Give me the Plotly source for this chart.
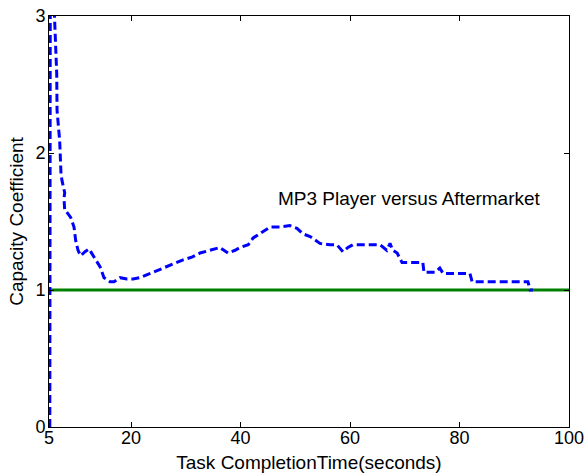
import plotly.graph_objects as go

# Capacity coefficient curve
time_s = [5.15, 5.25, 5.9, 6.2, 6.41, 6.47, 6.95, 7.19, 7.37, 7.87, 7.74, 7.87, 8.23, 8.96,
          9.57, 9.88, 10.3, 10.79, 11.58, 12.31, 13.22, 14.32, 15.05, 16.14, 16.87, 17.97,
          19.25, 20.35, 21.6, 23.45, 24.9, 26.55, 28.0, 29.5, 31.1, 32.6, 34.4, 36.2, 37.7,
          39.0, 39.9, 41.4, 42.3, 43.9, 45.4, 47.2, 49.0, 50.3, 51.4, 52.7, 54.5, 56.3,
          57.6, 58.7, 59.6, 60.5, 62.7, 65.5, 66.7, 67.3, 67.8, 68.6, 69.5, 71.0, 73.3,
          73.5, 75.5, 76.4, 77.0, 81.9, 82.3, 87.4, 92.5, 92.9, 93.4]
capacity = [0.0, 3.8, 3.1, 2.8, 2.58, 2.31, 2.09, 1.85, 1.80, 1.71, 1.67, 1.58, 1.57, 1.53,
            1.46, 1.36, 1.29, 1.25, 1.28, 1.30, 1.24, 1.17, 1.09, 1.06, 1.06, 1.09,
            1.08, 1.08, 1.09, 1.12, 1.14, 1.17, 1.19, 1.22, 1.24, 1.27, 1.29, 1.31, 1.27,
            1.29, 1.31, 1.33, 1.38, 1.42, 1.46, 1.46, 1.47, 1.45, 1.41, 1.39, 1.34, 1.33,
            1.33, 1.28, 1.31, 1.33, 1.33, 1.33, 1.29, 1.34, 1.29, 1.27, 1.20, 1.20, 1.20,
            1.13, 1.13, 1.16, 1.12, 1.12, 1.06, 1.06, 1.06, 1.00, 1.00]

ref_x = [5, 100]
ref_y = [1, 1]

x_ticks = [5, 20, 40, 60, 80, 100]
y_ticks = [0, 1, 2, 3]

annotation_text = "MP3 Player versus Aftermarket"

FONT = "Liberation Sans, Arial"

fig = go.Figure()
fig.add_trace(go.Scatter(x=ref_x, y=ref_y, mode="lines",
                         line=dict(color="rgb(0,128,0)", width=3), showlegend=False))
fig.add_trace(go.Scatter(x=time_s, y=capacity, mode="lines",
                         line=dict(color="rgb(0,0,255)", width=3, dash="8px,4px"),
                         showlegend=False))

fig.add_annotation(x=70.8, y=1.67, text=annotation_text, showarrow=False,
                   font=dict(size=19, color="black", family=FONT))

axis_common = dict(showline=True, linecolor="black", linewidth=1, mirror="ticks",
                   ticks="inside", ticklen=5, tickcolor="black", showgrid=False,
                   zeroline=False, automargin=False, ticklabeloverflow="allow",
                   tickfont=dict(size=18, color="black", family=FONT))

fig.update_xaxes(range=[5, 100], tickvals=x_ticks, ticktext=[str(v) for v in x_ticks],
                 ticklabelstandoff=-6,
                 title=dict(text="Task CompletionTime(seconds)", standoff=9,
                            font=dict(size=19, color="black", family=FONT)),
                 **axis_common)
fig.update_yaxes(range=[0, 3], tickvals=y_ticks, ticktext=[str(v) for v in y_ticks],
                 ticklabelstandoff=-1,
                 title=dict(text="Capacity Coefficient", standoff=6,
                            font=dict(size=19, color="black", family=FONT)),
                 **axis_common)

fig.update_layout(width=586, height=475, paper_bgcolor="white", plot_bgcolor="white",
                  margin=dict(l=49, r=17, t=16, b=48))

# remove the default 8px page margin so the figure fills the window exactly
fig.write_html("out.html", config={"displayModeBar": False},
               post_script="document.body.style.margin='0';document.body.style.overflow='hidden';")
